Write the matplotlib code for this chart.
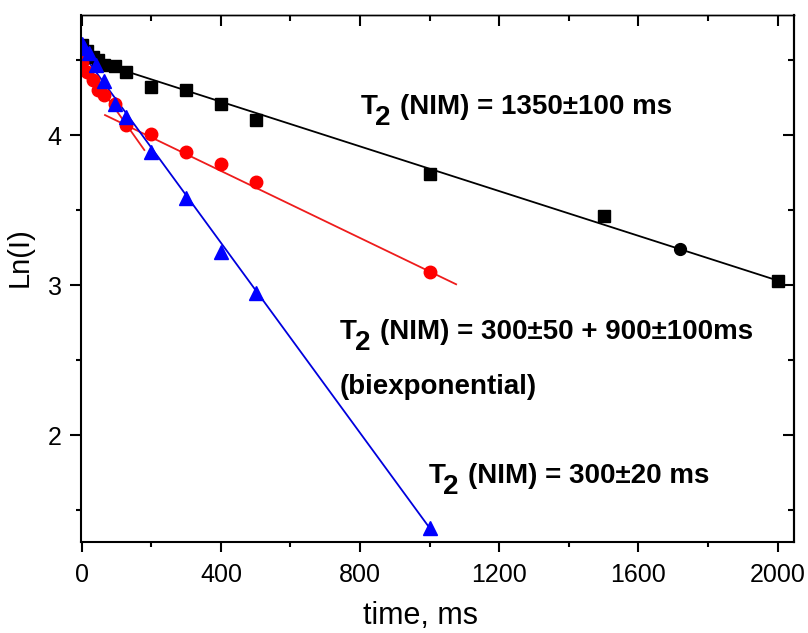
import matplotlib
matplotlib.use("Agg")
import matplotlib.pyplot as plt

plt.rcParams['font.family'] = ['Liberation Sans', 'DejaVu Sans']

# data (time in ms, ln of intensity)
black_t = [0, 16, 32, 48, 64, 96, 128, 200, 300, 400, 500, 1000, 1500, 2000]
black_ln = [4.60, 4.56, 4.52, 4.50, 4.47, 4.46, 4.42, 4.32, 4.30, 4.21, 4.10, 3.74, 3.46, 3.03]
black_circ_t = [1720]
black_circ_ln = [3.24]

red_t = [0, 16, 32, 48, 64, 96, 128, 200, 300, 400, 500, 1000]
red_ln = [4.49, 4.42, 4.37, 4.30, 4.27, 4.21, 4.07, 4.01, 3.89, 3.81, 3.69, 3.09]

blue_t = [0, 8, 20, 40, 64, 96, 128, 200, 300, 400, 500, 1000]
blue_ln = [4.61, 4.58, 4.55, 4.47, 4.36, 4.21, 4.12, 3.89, 3.58, 3.22, 2.95, 1.38]

# fit lines (end points)
black_fit_t = [0, 2000]
black_fit_ln = [4.52, 3.03]
red_fit_t = [67, 1076]
red_fit_ln = [4.133, 3.005]
red_fit2_t = [0, 180]
red_fit2_ln = [4.49, 3.90]
blue_fit_t = [0, 1000]
blue_fit_ln = [4.55, 1.38]

W, H = 808, 633
fig = plt.figure(figsize=(W / 100, H / 100), dpi=100)
ax = fig.add_axes([81 / W, 1 - 541.7 / H, (794 - 81) / W, (541.7 - 15) / H])

ax.plot(black_fit_t, black_fit_ln, color='black', lw=1.3)
ax.plot(red_fit_t, red_fit_ln, color='#ee1c1c', lw=1.3)
ax.plot(red_fit2_t, red_fit2_ln, color='#ee1c1c', lw=1.3)
ax.plot(blue_fit_t, blue_fit_ln, color='#0000dd', lw=1.3)

ax.plot(black_t, black_ln, 's', color='black', ms=8.5, ls='none')
ax.plot(black_circ_t, black_circ_ln, 'o', color='black', ms=8.5, ls='none')
ax.plot(red_t, red_ln, 'o', color='#ff0000', ms=9, ls='none')
ax.plot(blue_t, blue_ln, '^', color='#0000ff', ms=10, ls='none')

ax.set_xlim(-2, 2047)
ax.set_ylim(1.289, 4.8)
ax.set_xticks([0, 400, 800, 1200, 1600, 2000])
ax.set_xticks(range(0, 2001, 200), minor=True)
ax.set_yticks([2, 3, 4])
ax.set_yticks([1.5, 2.5, 3.5, 4.5], minor=True)

for s in ax.spines.values():
    s.set_linewidth(1.5)
ax.spines['top'].set_linewidth(1.0)
ax.tick_params(axis='x', which='major', direction='out', length=7, width=1.5,
               labelsize=18, pad=8)
ax.tick_params(axis='x', which='minor', direction='out', length=3.5, width=1.5)
ax.tick_params(axis='y', which='major', direction='out', length=8, width=1.5,
               labelsize=18, pad=6)
ax.tick_params(axis='y', which='minor', direction='out', length=3.5, width=1.5)

top = ax.secondary_xaxis('top')
top.set_xticks([0, 400, 800, 1200, 1600, 2000])
top.set_xticks(range(0, 2001, 200), minor=True)
top.tick_params(which='major', direction='in', length=8, width=1.5, labeltop=False)
top.tick_params(which='minor', direction='in', length=4, width=1.5)
right = ax.secondary_yaxis('right')
right.set_yticks([2, 3, 4])
right.set_yticks([1.5, 2.5, 3.5, 4.5], minor=True)
right.tick_params(which='major', direction='in', length=8, width=1.5, labelright=False)
right.tick_params(which='minor', direction='in', length=4, width=1.5)
top.spines['top'].set_linewidth(1.0)
right.spines['right'].set_linewidth(1.5)

ax.set_xlabel('time, ms', fontsize=22)
ax.xaxis.set_label_coords((420.5 - 81) / 713, -0.113)
ax.set_ylabel('Ln(I)', fontsize=21)
ax.yaxis.set_label_coords(-0.066, 0.54)


def t2_label(x, y, rest):
    fig.text(x / W, 1 - y / H, 'T', fontsize=20, fontweight='bold', va='baseline')
    fig.text((x + 15) / W, 1 - (y + 11) / H, '2', fontsize=20, fontweight='bold',
             va='baseline')
    fig.text((x + 40) / W, 1 - y / H, rest, fontsize=20, fontweight='bold',
             va='baseline')


t2_label(360.5, 113.8, '(NIM) = 1350±100 ms')
t2_label(340, 339, '(NIM) = 300±50 + 900±100ms')
t2_label(428.3, 483.3, '(NIM) = 300±20 ms')
fig.text(340 / W, 1 - 394 / H, '(biexponential)', fontsize=20, fontweight='bold',
         va='baseline')

fig.savefig('out.png', dpi=100)
